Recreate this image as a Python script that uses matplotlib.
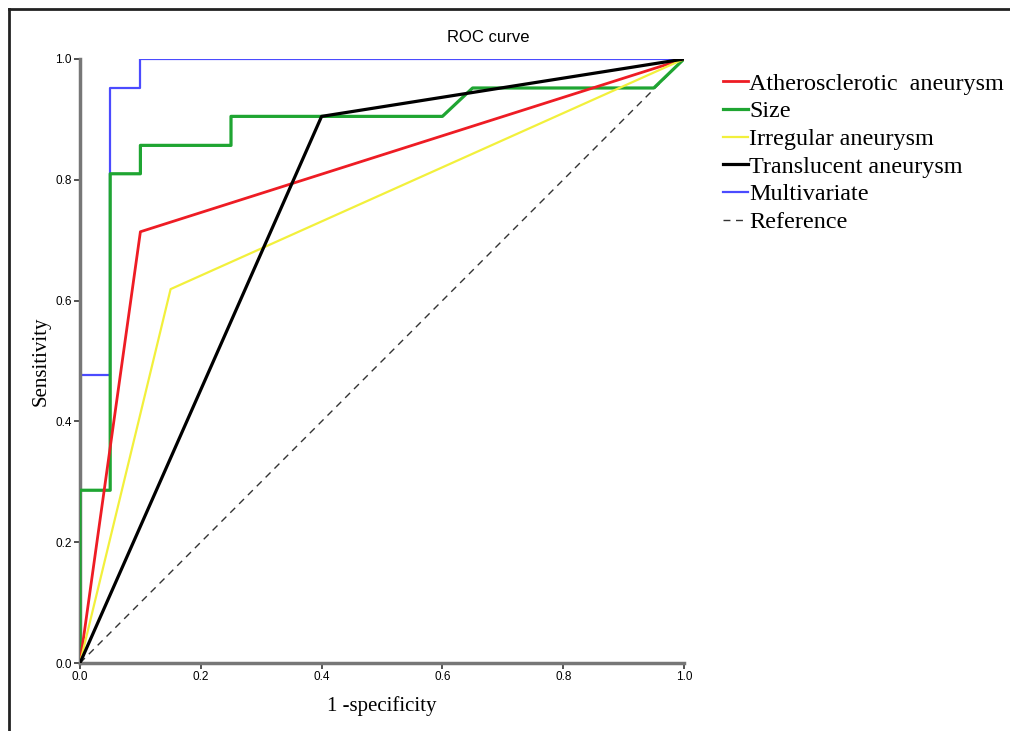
import matplotlib.pyplot as plt
from matplotlib.lines import Line2D

# ROC points
fpr_athero = [0.0, 0.10, 1.0]
tpr_athero = [0.0, 0.714, 1.0]

fpr_size = [0.0, 0.0, 0.05, 0.05, 0.10, 0.10, 0.25, 0.25, 0.60, 0.65, 0.95, 1.0]
tpr_size = [0.0, 0.286, 0.286, 0.810, 0.810, 0.857, 0.857, 0.905, 0.905, 0.952, 0.952, 1.0]

fpr_irreg = [0.0, 0.15, 1.0]
tpr_irreg = [0.0, 0.619, 1.0]

fpr_transl = [0.0, 0.40, 1.0]
tpr_transl = [0.0, 0.905, 1.0]

fpr_multi = [0.0, 0.0, 0.05, 0.05, 0.10, 0.10, 1.0]
tpr_multi = [0.0, 0.476, 0.476, 0.952, 0.952, 1.0, 1.0]

ref = [0.0, 1.0]
ticks = [0.0, 0.2, 0.4, 0.6, 0.8, 1.0]
tick_labels = ['0.0', '0.2', '0.4', '0.6', '0.8', '1.0']

fig = plt.figure(figsize=(10.1, 7.31), dpi=100)
ax = fig.add_axes([80 / 1010, 1 - 663 / 731, 604 / 1010, 604 / 731])

ax.plot(fpr_athero, tpr_athero, color='#ee1c24', lw=2.0, label='Atherosclerotic  aneurysm', zorder=4)
ax.plot(fpr_size, tpr_size, color='#1fa532', lw=2.3, label='Size', zorder=3)
ax.plot(fpr_irreg, tpr_irreg, color='#f2f03c', lw=1.6, label='Irregular aneurysm', zorder=4)
ax.plot(fpr_transl, tpr_transl, color='black', lw=2.3, label='Translucent aneurysm', zorder=5)
ax.plot(fpr_multi, tpr_multi, color='#4b4bff', lw=1.6, label='Multivariate', zorder=2)
ax.plot(ref, ref, color='#333333', lw=1.0, dashes=(5, 4), label='Reference', zorder=1)

ax.set_xlim(0, 1)
ax.set_ylim(0, 1)
ax.set_xticks(ticks)
ax.set_xticklabels(tick_labels)
ax.set_yticks(ticks)
ax.set_yticklabels(tick_labels)
ax.tick_params(labelsize=8.5, length=4, width=1.2, color='#333333', pad=2)
for lab in ax.get_xticklabels() + ax.get_yticklabels():
    lab.set_family('Liberation Sans')

for side in ['top', 'right']:
    ax.spines[side].set_visible(False)
for side in ['left', 'bottom']:
    ax.spines[side].set_color('#777777')
    ax.spines[side].set_linewidth(2.5)

ax.set_xlabel('1 -specificity', family='Liberation Serif', fontsize=15, labelpad=9)
ax.set_ylabel('Sensitivity', family='Liberation Serif', fontsize=15, labelpad=3)

fig.text(488 / 1010, 1 - 37 / 731, 'ROC curve', family='Liberation Sans', fontsize=12,
         ha='center', va='center')

leg = ax.legend(loc='upper left', bbox_to_anchor=(713 / 1010, 1 - 63 / 731),
                bbox_transform=fig.transFigure, frameon=False,
                prop={'family': 'Liberation Serif', 'size': 17.4},
                handlelength=1.05, handletextpad=0.05, labelspacing=0.24, borderaxespad=0)

# outer frame of the figure
fig.add_artist(Line2D([9 / 1010, 9 / 1010], [0, 1 - 9 / 731], color='#222222', lw=2,
                      transform=fig.transFigure))
fig.add_artist(Line2D([9 / 1010, 1], [1 - 9 / 731, 1 - 9 / 731], color='#222222', lw=2,
                      transform=fig.transFigure))

fig.savefig('out.png', dpi=100)
